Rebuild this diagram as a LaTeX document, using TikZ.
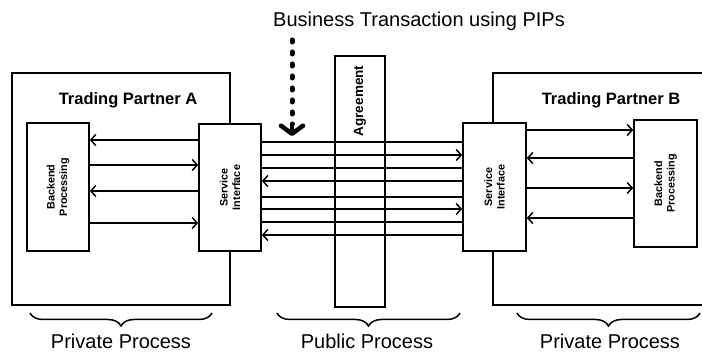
\documentclass[tikz,border=0pt]{standalone}
\usepackage{fontspec}
\setmainfont{Liberation Sans}
\usetikzlibrary{arrows.meta,decorations.pathreplacing}
\begin{document}
\begin{tikzpicture}[x=1pt,y=-1pt,
  box/.style={draw,line width=1.6pt,fill=white,inner sep=0pt},
  conn/.style={line width=1.5pt},
  arr/.style={conn,-{Straight Barb[length=5pt,width=11pt]}},
  vlab/.style={rotate=90,align=center,font=\fontsize{10.8}{12.5}\selectfont\bfseries},
  tplab/.style={font=\fontsize{16.5}{19}\selectfont\bfseries},
  bottomlab/.style={inner sep=0pt,font=\fontsize{20}{24}\selectfont},
  bracestyle/.style={decorate,decoration={brace,mirror,amplitude=13pt},line width=1.5pt}
]
\useasboundingbox (0,0) rectangle (702,352);
\clip (0,0) rectangle (702,352);
% outer partner boxes
\node[box,minimum width=218pt,minimum height=232pt] (ptA) at (121,189) {};
\node[box,minimum width=267pt,minimum height=232pt] (ptB) at (626.5,189) {};
\node[tplab] (tA) at (128,100) {Trading Partner A};
\node[tplab] (tB) at (611,100) {Trading Partner B};
% inner boxes
\node[box,minimum width=62pt,minimum height=128pt] (bpA) at (58,187) {};
\node[box,minimum width=62pt,minimum height=127pt] (siA) at (230,187.5) {};
\node[box,minimum width=63pt,minimum height=128pt] (siB) at (494.5,187) {};
\node[box,minimum width=63pt,minimum height=127pt] (bpB) at (665.5,183.5) {};
\node[draw,line width=1.6pt,inner sep=0pt,minimum width=50pt,minimum height=251pt] (agr) at (360,181.5) {};
\node[vlab] (bpAt) at (bpA) {Backend\\Processing};
\node[vlab] (siAt) at (siA) {Service\\Interface};
\node[vlab] (siBt) at (siB) {Service\\Interface};
\node[vlab] (bpBt) at (bpB) {Backend\\Processing};
\node[rotate=90,font=\fontsize{13.5}{16}\selectfont\bfseries] (agrt) at (360,101) {Agreement};
% internal arrows A
\draw[arr] (siA.west |- 0,140) -- (bpA.east |- 0,140);
\draw[arr] (bpA.east |- 0,165) -- (siA.west |- 0,165);
\draw[arr] (siA.west |- 0,191) -- (bpA.east |- 0,191);
\draw[arr] (bpA.east |- 0,223) -- (siA.west |- 0,223);
% internal arrows B
\draw[arr] (siB.east |- 0,130) -- (bpB.west |- 0,130);
\draw[arr] (bpB.west |- 0,158) -- (siB.east |- 0,158);
\draw[arr] (siB.east |- 0,188) -- (bpB.west |- 0,188);
\draw[arr] (bpB.west |- 0,218) -- (siB.east |- 0,218);
% public process lines
\draw[conn] (siA.east |- 0,142) -- (siB.west |- 0,142);
\draw[arr]  (siA.east |- 0,155) -- (siB.west |- 0,155);
\draw[conn] (siA.east |- 0,168) -- (siB.west |- 0,168);
\draw[arr]  (siB.west |- 0,181) -- (siA.east |- 0,181);
\draw[conn] (siA.east |- 0,197) -- (siB.west |- 0,197);
\draw[arr]  (siA.east |- 0,209) -- (siB.west |- 0,209);
\draw[conn] (siA.east |- 0,222) -- (siB.west |- 0,222);
\draw[arr]  (siB.west |- 0,235) -- (siA.east |- 0,235);
% title and dotted arrow
\node[font=\fontsize{20}{24}\selectfont] (title) at (419,21) {Business Transaction using PIPs};
\coordinate (dS) at (292,40);
\coordinate (dM) at (292,124);
\coordinate (dE) at (292,136);
\draw[line width=5pt,line cap=round,dash pattern=on 2pt off 10pt] (dS) -- (dM);
\draw[line width=4.5pt,-{Straight Barb[length=8pt,width=22pt,line cap=round,line join=round]}] (dM) -- (dE);
% braces
\coordinate (b1s) at (30,313); \coordinate (b1e) at (212,313);
\coordinate (b2s) at (277,313); \coordinate (b2e) at (460,313);
\coordinate (b3s) at (517,313); \coordinate (b3e) at (700,313);
\draw[bracestyle] (b1s) -- (b1e);
\draw[bracestyle] (b2s) -- (b2e);
\draw[bracestyle] (b3s) -- (b3e);
\node[bottomlab] (l1) at (121,341) {Private Process};
\node[bottomlab] (l2) at (367,341) {Public Process};
\node[bottomlab] (l3) at (610,341) {Private Process};
\end{tikzpicture}
\end{document}
